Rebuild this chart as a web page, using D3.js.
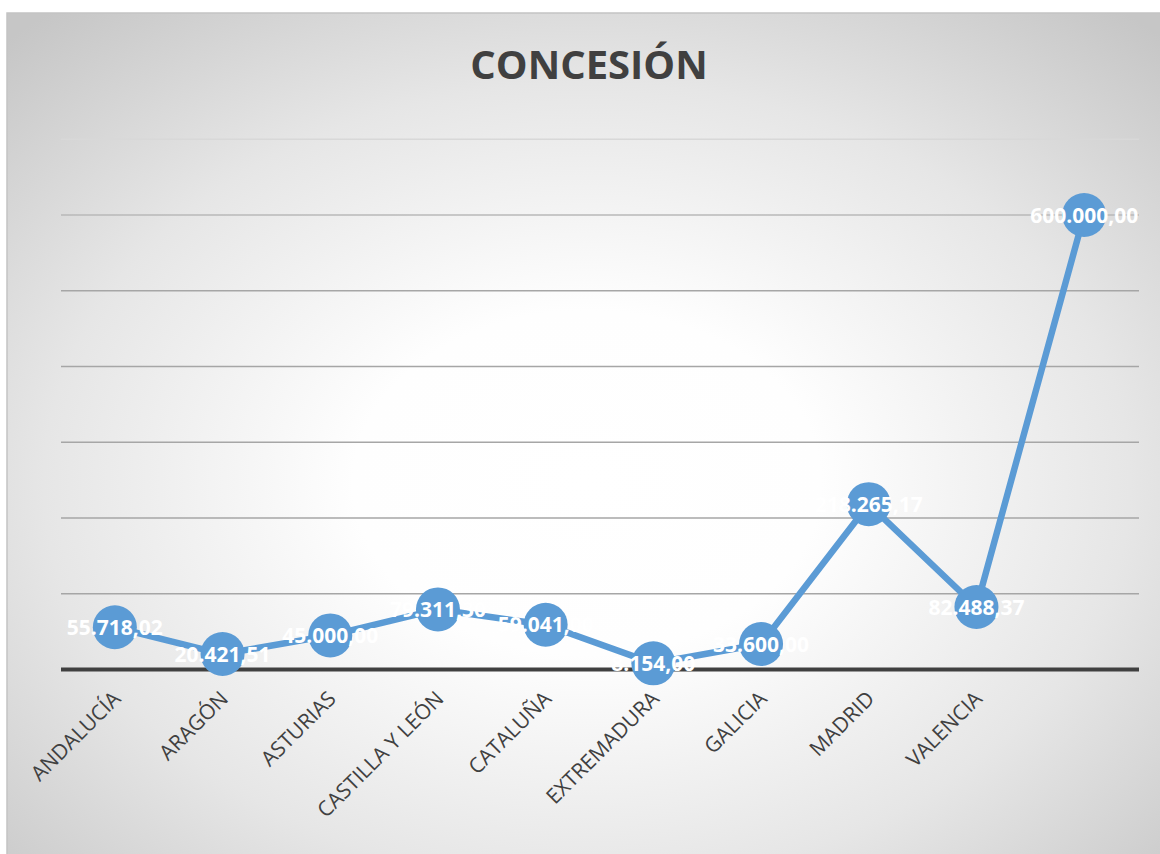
<!DOCTYPE html>
<html>
<head>
<meta charset="utf-8">
<script src="https://cdn.jsdelivr.net/npm/d3@7"></script>
<style>
  html, body { margin: 0; padding: 0; background: #ffffff; }
  svg { display: block; }
</style>
</head>
<body>
<svg id="chart" width="1160" height="854"></svg>
<script>
"use strict";

const title = 'CONCESIÓN';

const categories = ['ANDALUCÍA', 'ARAGÓN', 'ASTURIAS', 'CASTILLA Y LEÓN', 'CATALUÑA',
                    'EXTREMADURA', 'GALICIA', 'MADRID', 'VALENCIA', ''];

const values = [55718.02, 20421.51, 45000.00, 79311.30, 59041.00,
                8154.00, 33600.00, 218265.17, 82488.37, 600000.00];

const gridValues = [100000, 200000, 300000, 400000, 500000, 600000, 700000];

const svg = d3.select('#chart');
const W = 1160, H = 854;

/*-- background --------------------------------------------------------------*/
const defs = svg.append('defs');
const grad = defs.append('radialGradient')
                 .attr('id', 'bg')
                 .attr('cx', '0.5').attr('cy', '0.55')
                 .attr('r', '0.72');
grad.append('stop').attr('offset', '0').attr('stop-color', '#ffffff');
grad.append('stop').attr('offset', '0.28').attr('stop-color', '#fefefe');
grad.append('stop').attr('offset', '0.65').attr('stop-color', '#e6e6e6');
grad.append('stop').attr('offset', '1').attr('stop-color', '#c6c6c6');

svg.append('rect')
   .attr('x', 7).attr('y', 13)
   .attr('width', W).attr('height', H)
   .style('fill', 'url(#bg)')
   .style('stroke', '#c4c4c4')
   .style('stroke-width', 1.5);

/*-- scales ------------------------------------------------------------------*/
const x = d3.scaleBand()
            .domain(d3.range(categories.length))
            .range([61, 1138])
            .padding(0);

const y = d3.scaleLinear()
            .domain([0, 700000])
            .range([669.5, 139.25]);

const cx = function(i){ return x(i) + x.bandwidth() / 2; };

const gridColor = d3.scaleLinear()
                    .domain([500000, 600000, 700000])
                    .range(['#a6a6a6', '#b8b8b8', '#d8d8d8'])
                    .clamp(true);

/*-- title -------------------------------------------------------------------*/
svg.append('text')
   .attr('x', 589).attr('y', 79)
   .attr('text-anchor', 'middle')
   .style('font-family', '"Open Sans", sans-serif')
   .style('font-weight', 'bold')
   .style('font-size', '40px')
   .style('fill', '#404040')
   .text(title);

/*-- gridlines ---------------------------------------------------------------*/
svg.append('g')
   .selectAll('line')
   .data(gridValues)
   .enter()
   .append('line')
   .attr('x1', 61).attr('x2', 1139)
   .attr('y1', function(d){ return y(d); })
   .attr('y2', function(d){ return y(d); })
   .style('stroke', function(d){ return gridColor(d); })
   .style('stroke-width', 1.5);

/*-- x axis ------------------------------------------------------------------*/
svg.append('line')
   .attr('x1', 61).attr('x2', 1139)
   .attr('y1', y(0)).attr('y2', y(0))
   .style('stroke', '#404040')
   .style('stroke-width', 4);

svg.append('g')
   .selectAll('text')
   .data(categories)
   .enter()
   .append('text')
   .attr('transform', function(d, i){
       return 'translate(' + (cx(i) + 7) + ',' + 700 + ') rotate(-45)';
   })
   .attr('text-anchor', 'end')
   .style('font-family', '"Open Sans", sans-serif')
   .style('font-size', '21px')
   .style('fill', '#404040')
   .text(function(d){ return d; });

/*-- series ------------------------------------------------------------------*/
const line = d3.line()
               .x(function(d, i){ return cx(i); })
               .y(function(d){ return y(d); });

svg.append('path')
   .datum(values)
   .attr('d', line)
   .style('fill', 'none')
   .style('stroke', '#5b9bd5')
   .style('stroke-width', 6.5)
   .style('stroke-linejoin', 'round');

svg.append('g')
   .selectAll('circle')
   .data(values)
   .enter()
   .append('circle')
   .attr('cx', function(d, i){ return cx(i); })
   .attr('cy', function(d){ return y(d); })
   .attr('r', 22)
   .style('fill', '#5b9bd5');

const es = d3.formatLocale({decimal: ',', thousands: '.', grouping: [3], currency: ['', '']});
const fmt = es.format(',.2f');

svg.append('g')
   .selectAll('text')
   .data(values)
   .enter()
   .append('text')
   .attr('x', function(d, i){ return cx(i); })
   .attr('y', function(d){ return y(d); })
   .attr('dy', '0.36em')
   .attr('text-anchor', 'middle')
   .style('font-family', '"Open Sans", sans-serif')
   .style('font-weight', 'bold')
   .style('font-size', '21px')
   .style('fill', '#ffffff')
   .text(function(d){ return fmt(d); });
</script>
</body>
</html>
